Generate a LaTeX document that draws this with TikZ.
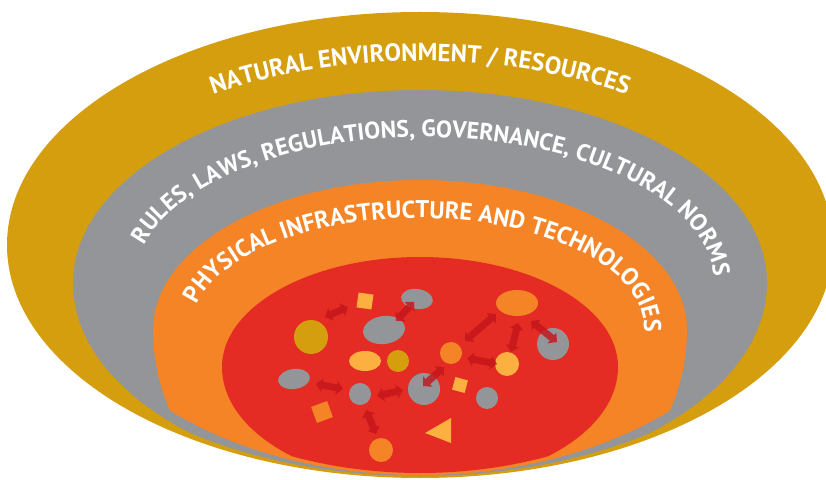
\documentclass[tikz,border=0pt]{standalone}
\usepackage{fontspec}
\setmainfont{PT Sans}
\usetikzlibrary{decorations.text,arrows.meta,calc,shapes.geometric}
\definecolor{goldc}{HTML}{D59E0F}
\definecolor{grayc}{HTML}{939598}
\definecolor{orangec}{HTML}{F58426}
\definecolor{redc}{HTML}{E42C25}
\definecolor{lightor}{HTML}{FBB040}
\definecolor{arrred}{HTML}{C4161C}
\newcommand\bandfontA{\fontsize{24.7pt}{25pt}\selectfont\bfseries}
\newcommand\bandfontB{\fontsize{23.8pt}{25pt}\selectfont\bfseries}
\newcommand\bandfontC{\fontsize{24.3pt}{25pt}\selectfont\bfseries}
\tikzset{
  shp/.style={inner sep=0pt, outer sep=0pt, draw=none},
  circ/.style={shp, circle, minimum size=#1},
  ell/.style 2 args={shp, ellipse, minimum width=#1, minimum height=#2},
  sqr/.style={shp, rectangle, minimum size=#1},
  dbl/.style={draw=arrred, line width=7pt,
    {Triangle[width=13.5pt,length=6.5pt]}-{Triangle[width=13.5pt,length=6.5pt]}},
  bandtext/.style={decorate, decoration={text along path, text color=white, #1}}
}
\begin{document}
\begin{tikzpicture}[x=1pt,y=1pt]
\useasboundingbox (0,0) rectangle (826,479);
\clip (0,0) rectangle (826,479);
% outer gold
\fill[goldc] (420,234) ellipse [x radius=413pt, y radius=233pt];
% gray
\begin{scope}
\clip (420,233) ellipse [x radius=395pt, y radius=230pt];
\fill[grayc] (767,196) arc[start angle=0,end angle=180,x radius=347pt,y radius=193pt]
  arc[start angle=180,end angle=360,x radius=347pt,y radius=200pt] -- cycle;
\end{scope}
% orange
\begin{scope}
\clip (420,233.5) ellipse [x radius=360pt, y radius=229.5pt];
\fill[orangec] (687,149) arc[start angle=0,end angle=180,x radius=267pt,y radius=150pt]
  arc[start angle=180,end angle=360,x radius=267pt,y radius=229pt] -- cycle;
\end{scope}
% red
\begin{scope}
\clip (420,234) ellipse [x radius=340pt, y radius=228pt];
\fill[redc] (618,112) arc[start angle=0,end angle=180,x radius=198pt,y radius=110pt]
  arc[start angle=180,end angle=360,x radius=198pt,y radius=117pt] -- cycle;
\end{scope}
% band texts
\coordinate (cN) at (420,234);
\coordinate (cR) at (424,196);
\coordinate (cP) at (418,151);
\path[bandtext={text align=center, text={|\bandfontA|NATURAL ENVIRONMENT / RESOURCES}}]
  ($(cN)+(140:360pt and 184pt)$) arc[start angle=140,end angle=40,x radius=360pt,y radius=184pt];
\path[bandtext={text align=left, text={|\bandfontB|RULES, LAWS, REGULATIONS, GOVERNANCE, CULTURAL NORMS}}]
  ($(cR)+(165:290pt and 146pt)$) arc[start angle=165,end angle=-20,x radius=290pt,y radius=146pt];
\path[bandtext={text align=left, text={|\bandfontC|PHYSICAL INFRASTRUCTURE AND TECHNOLOGIES}}]
  ($(cP)+(168:226pt and 110pt)$) arc[start angle=168,end angle=-20,x radius=226pt,y radius=110pt];
% inner shapes
\node[circ=34pt, fill=goldc] (s1) at (311,142) {};
\node[sqr=15pt, fill=lightor, rotate=-8] (s2) at (365,178) {};
\node[ell={32pt}{20pt}, fill=grayc, rotate=-8] (s3) at (417,180) {};
\node[ell={42pt}{28pt}, fill=grayc, rotate=8] (s4) at (384,149) {};
\node[ell={32pt}{20pt}, fill=lightor] (s5) at (365,118) {};
\node[circ=22pt, fill=goldc] (s6) at (398,118) {};
\node[ell={32pt}{20pt}, fill=grayc, rotate=8] (s7) at (294,100) {};
\node[circ=22pt, fill=grayc] (s8) at (360,85) {};
\node[sqr=17pt, fill=orangec, rotate=20] (s9) at (322,67) {};
\node[circ=32pt, fill=grayc] (s10) at (424,90) {};
\node[circ=22pt, fill=orangec] (s11) at (451,126) {};
\node[sqr=13pt, fill=lightor, rotate=-15] (s12) at (460,94) {};
\node[circ=22pt, fill=grayc] (s13) at (487,81) {};
\node[circ=24pt, fill=orangec] (s15) at (381,29) {};
\node[ell={42pt}{26pt}, fill=orangec] (s16) at (517,176) {};
\node[circ=32pt, fill=grayc] (s17) at (553,135) {};
\node[circ=24pt, fill=lightor] (s18) at (507,115) {};
\fill[lightor] (425,46) -- (451,61) -- (451,36) -- cycle;
% arrow ends
\coordinate (a1) at (325,162); \coordinate (a2) at (348,172);
\coordinate (b1) at (414,177); \coordinate (b2) at (396,158);
\coordinate (c1) at (316,95);  \coordinate (c2) at (343,90);
\coordinate (d1) at (377,83);  \coordinate (d2) at (403,89);
\coordinate (e1) at (366,69);  \coordinate (e2) at (376,45);
\coordinate (f1) at (423,93);  \coordinate (f2) at (444,112);
\coordinate (g1) at (465,138); \coordinate (g2) at (496,165);
\coordinate (h1) at (467,121); \coordinate (h2) at (497,115);
\coordinate (i1) at (511,127); \coordinate (i2) at (518,156);
\coordinate (j1) at (531,158); \coordinate (j2) at (557,137);
\begin{scope}[transparency group, opacity=0.82]
\foreach \p in {a,b,c,d,e,f,g,h,i,j} \draw[dbl] (\p1) -- (\p2);
\end{scope}
\end{tikzpicture}
\end{document}
